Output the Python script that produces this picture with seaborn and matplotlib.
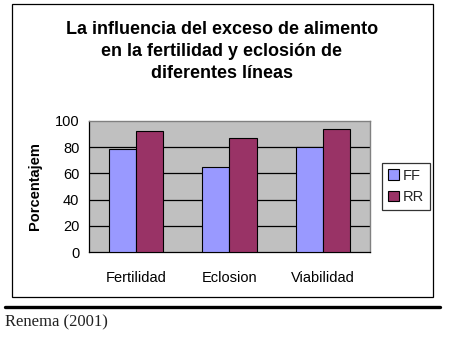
import matplotlib
matplotlib.use("Agg")
import matplotlib.pyplot as plt
import seaborn as sns
import pandas as pd
from matplotlib.patches import Rectangle
from matplotlib.lines import Line2D

categories = ["Fertilidad", "Eclosion", "Viabilidad"]
series_names = ["FF", "RR"]
ff_values = [79, 65, 80]
rr_values = [92, 87, 94]
y_ticks = [0, 20, 40, 60, 80, 100]
title = "La influencia del exceso de alimento\nen la fertilidad y eclosión de\ndiferentes líneas"
y_label = "Porcentajem"
source = "Renema (2001)"

df = pd.DataFrame({
    "cat": categories * 2,
    "serie": [series_names[0]] * 3 + [series_names[1]] * 3,
    "val": ff_values + rr_values,
})

sns.set_theme(style="white")
plt.rcParams["font.family"] = ["Liberation Sans", "DejaVu Sans"]

W, H = 452, 337
fig = plt.figure(figsize=(W / 100, H / 100), dpi=100)
fig.patch.set_facecolor("white")

L, R, T, B = 89, 370, 121, 252
ax = fig.add_axes([L / W, 1 - B / H, (R - L) / W, (B - T) / H])
ax.set_facecolor("#C0C0C0")

sns.barplot(data=df, x="cat", y="val", hue="serie", order=categories,
            hue_order=series_names, palette=["#9999FF", "#993366"],
            width=0.58, gap=0, edgecolor="black", linewidth=0.8,
            saturation=1, ax=ax, legend=True, zorder=3)

ax.set_ylim(0, 100)
ax.set_xlim(-0.5, 2.5)
ax.set_yticks(y_ticks)
ax.set_yticklabels([str(v) for v in y_ticks], fontsize=10.5)
for v in y_ticks[1:-1]:
    ax.axhline(v, color="black", lw=0.9, zorder=1)
ax.set_xticks(range(3))
ax.set_xticklabels(categories, fontsize=10.5)
ax.set_xticks([-0.5, 0.5, 1.5, 2.5], minor=True)
ax.tick_params(axis="x", which="major", length=0, pad=14)
ax.tick_params(axis="x", which="minor", length=4, width=0.9, color="black", direction="out")
ax.tick_params(axis="y", which="major", length=4, width=0.9, color="black", direction="out", pad=3)
ax.tick_params(colors="black")
ax.set_xlabel("")
ax.set_ylabel(y_label, fontsize=10.5, fontweight="bold", labelpad=9, color="black")

for s in ["left", "bottom"]:
    ax.spines[s].set_color("black")
    ax.spines[s].set_linewidth(0.9)
for s in ["top", "right"]:
    ax.spines[s].set_color("#808080")
    ax.spines[s].set_linewidth(1.0)

leg = ax.legend(loc="upper left", bbox_to_anchor=(382 / W, 1 - 163 / H),
                bbox_transform=fig.transFigure, frameon=True, fancybox=False,
                fontsize=10.5, handlelength=0.75, handleheight=0.75,
                handletextpad=0.3, borderpad=0.4, labelspacing=0.5,
                borderaxespad=0)
leg.get_frame().set_edgecolor("black")
leg.get_frame().set_linewidth(0.9)
for h in leg.legend_handles:
    h.set_edgecolor("black")
    h.set_linewidth(0.8)

fig.text(222 / W, 1 - 21 / H, title, ha="center", va="top", fontsize=13,
         fontweight="bold", linespacing=1.38, color="black")

fig.patches.append(Rectangle((12 / W, 1 - 297 / H), (433 - 12) / W, (297 - 4) / H,
                             transform=fig.transFigure, fill=False,
                             edgecolor="black", lw=0.9))
fig.lines.append(Line2D([5 / W, 440 / W], [1 - 307 / H, 1 - 307 / H],
                        transform=fig.transFigure, color="black", lw=2.4))
fig.text(5 / W, 1 - 322 / H, source, ha="left", va="center", fontsize=12,
         family=["Liberation Serif", "DejaVu Serif"], color="#222222")

fig.savefig("out.png", dpi=100)
